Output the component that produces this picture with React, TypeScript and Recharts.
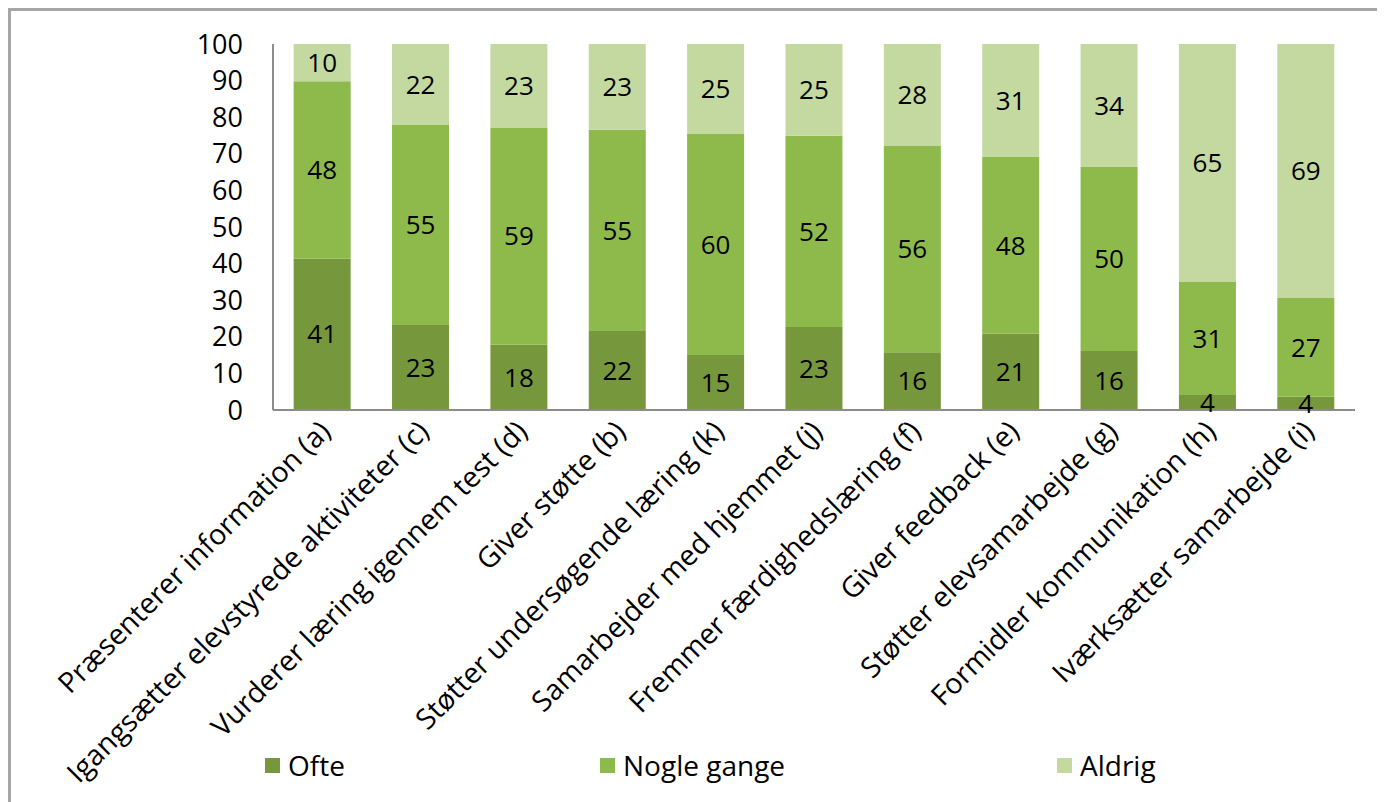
import React from 'react';
import { BarChart, Bar, XAxis, YAxis, LabelList, Legend } from 'recharts';

const categories = [
  'Præsenterer information (a)',
  'Igangsætter elevstyrede aktiviteter (c)',
  'Vurderer læring igennem test (d)',
  'Giver støtte (b)',
  'Støtter undersøgende læring (k)',
  'Samarbejder med hjemmet (j)',
  'Fremmer færdighedslæring (f)',
  'Giver feedback (e)',
  'Støtter elevsamarbejde (g)',
  'Formidler kommunikation (h)',
  'Iværksætter samarbejde (i)',
];

const ofte = [41.4, 23.2, 17.8, 21.6, 15.0, 22.7, 15.8, 20.8, 16.1, 4.1, 3.6];
const nogleGange = [48.4, 54.7, 59.4, 55.0, 60.4, 52.2, 56.3, 48.3, 50.3, 30.9, 27.0];
const aldrig = [10.2, 22.1, 22.8, 23.4, 24.6, 25.1, 27.9, 30.9, 33.6, 65.0, 69.4];

const seriesNames = ['Ofte', 'Nogle gange', 'Aldrig'];
const yTicks = [0, 10, 20, 30, 40, 50, 60, 70, 80, 90, 100];

const data = categories.map((name, i) => ({
  name,
  ofte: ofte[i],
  nogle: nogleGange[i],
  aldrig: aldrig[i],
}));

const COLORS = { ofte: '#77973d', nogle: '#8eba4b', aldrig: '#c3d9a0' };
const FONT = '"Open Sans", sans-serif';
// legend item offsets, relative to the legend box (which starts at the plot's left margin)
const LEGEND_X = [52, 387, 844];

const AngledTick = (props: any) => {
  const { x, y, payload } = props;
  return (
    <g transform={`translate(${x + 10},${y + 15}) rotate(-45)`}>
      <text x={0} y={0} textAnchor="end" fontSize={28.5} fontFamily={FONT} fill="#000">
        {payload.value}
      </text>
    </g>
  );
};

const LegendContent = (props: any) => {
  const payload = [...(props.payload || [])].sort(
    (a: any, b: any) => seriesNames.indexOf(a.value) - seriesNames.indexOf(b.value)
  );
  return (
    <div style={{ position: 'relative', height: 60, width: '100%' }}>
      {payload.map((entry: any, i: number) => (
        <div
          key={`leg-${i}`}
          style={{
            position: 'absolute',
            left: LEGEND_X[i],
            top: 4,
            display: 'flex',
            alignItems: 'center',
            fontFamily: FONT,
            fontSize: 28,
            color: '#000',
            whiteSpace: 'nowrap',
          }}
        >
          <span style={{ width: 15, height: 15, background: entry.color, display: 'inline-block', marginRight: 8 }} />
          {entry.value}
        </div>
      ))}
    </div>
  );
};

const labelFmt = (v: any) => Math.round(Number(v));

export default function App() {
  return (
    <div style={{ width: 1374, height: 791, borderTop: '3px solid #a6a6a6', borderLeft: '3px solid #a6a6a6' }}>
      <BarChart
        width={1374}
        height={791}
        data={data}
        margin={{ top: 33, right: 30, left: 202, bottom: 0 }}
        barCategoryGap="21%"
      >
        <XAxis
          dataKey="name"
          interval={0}
          height={332}
          tick={<AngledTick />}
          tickLine={false}
          axisLine={{ stroke: '#8c8c8c', strokeWidth: 2 }}
        />
        <YAxis
          domain={[0, 100]}
          ticks={yTicks}
          interval={0}
          width={60}
          tickSize={0}
          tickMargin={30}
          tickLine={false}
          axisLine={{ stroke: '#8c8c8c', strokeWidth: 2 }}
          tick={{ fontSize: 27, fontFamily: FONT, fill: '#000' }}
        />
        <Legend verticalAlign="bottom" height={60} content={<LegendContent />} />
        <Bar dataKey="ofte" name={seriesNames[0]} stackId="a" fill={COLORS.ofte} isAnimationActive={false}>
          <LabelList dataKey="ofte" position="center" formatter={labelFmt} fill="#000" fontSize={26} fontFamily={FONT} />
        </Bar>
        <Bar dataKey="nogle" name={seriesNames[1]} stackId="a" fill={COLORS.nogle} isAnimationActive={false}>
          <LabelList dataKey="nogle" position="center" formatter={labelFmt} fill="#000" fontSize={26} fontFamily={FONT} />
        </Bar>
        <Bar dataKey="aldrig" name={seriesNames[2]} stackId="a" fill={COLORS.aldrig} isAnimationActive={false}>
          <LabelList dataKey="aldrig" position="center" formatter={labelFmt} fill="#000" fontSize={26} fontFamily={FONT} />
        </Bar>
      </BarChart>
    </div>
  );
}
